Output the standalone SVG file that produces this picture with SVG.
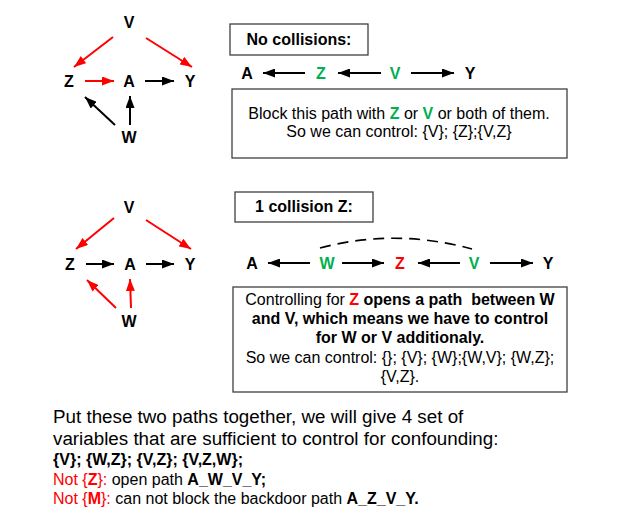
<svg xmlns="http://www.w3.org/2000/svg" width="625" height="526" viewBox="0 0 625 526">
<defs>
<style>
.n{font-family:"Liberation Sans",Arial,sans-serif;font-weight:bold;font-size:16px;text-anchor:middle;fill:#000}
.t{font-family:"Liberation Sans",Arial,sans-serif;fill:#000;white-space:pre}
.b{font-weight:bold}
.r{fill:#FF0000}
.g{fill:#00B050}
.box{fill:#fff;stroke:#404040;stroke-width:1.3}
.k{stroke:#000;stroke-width:2;fill:none}
.kr{stroke:#FF0000;stroke-width:2;fill:none}
</style>
<marker id="ak" markerUnits="userSpaceOnUse" markerWidth="12" markerHeight="9" refX="12" refY="4.5" orient="auto"><path d="M0,0 L12,4.5 L0,9 z" fill="#000"/></marker>
<marker id="ar" markerUnits="userSpaceOnUse" markerWidth="12" markerHeight="9" refX="12" refY="4.5" orient="auto"><path d="M0,0 L12,4.5 L0,9 z" fill="#FF0000"/></marker>
</defs>
<rect width="625" height="526" fill="#fff"/>

<g id="graph1">
<text class="n" x="129" y="28">V</text>
<text class="n" x="69" y="87">Z</text>
<text class="n" x="129" y="87">A</text>
<text class="n" x="190" y="87">Y</text>
<text class="n" x="129" y="143">W</text>
</g>
<g id="graph2">
<text class="n" x="129" y="213">V</text>
<text class="n" x="70" y="270">Z</text>
<text class="n" x="130" y="270">A</text>
<text class="n" x="190" y="270">Y</text>
<text class="n" x="129" y="327">W</text>
</g>

<g id="connectors">
<line class="kr" x1="113" y1="37" x2="74" y2="67" marker-end="url(#ar)"/>
<line class="kr" x1="146" y1="38" x2="192" y2="67" marker-end="url(#ar)"/>
<line class="kr" x1="85" y1="81" x2="114" y2="81" marker-end="url(#ar)"/>
<line class="k" x1="145" y1="81" x2="174" y2="81" marker-end="url(#ak)"/>
<line class="k" x1="115" y1="125" x2="85" y2="97" marker-end="url(#ak)"/>
<line class="k" x1="130" y1="125" x2="130" y2="96" marker-end="url(#ak)"/>

<line class="kr" x1="114" y1="218" x2="76" y2="249" marker-end="url(#ar)"/>
<line class="kr" x1="146" y1="220" x2="191" y2="249" marker-end="url(#ar)"/>
<line class="k" x1="86" y1="264" x2="114" y2="264" marker-end="url(#ak)"/>
<line class="k" x1="146" y1="264" x2="174" y2="264" marker-end="url(#ak)"/>
<line class="kr" x1="116" y1="308" x2="87" y2="280" marker-end="url(#ar)"/>
<line class="kr" x1="131" y1="308" x2="130" y2="279" marker-end="url(#ar)"/>

<line class="k" x1="305" y1="73" x2="263" y2="73" marker-end="url(#ak)"/>
<line class="k" x1="381" y1="73" x2="338" y2="73" marker-end="url(#ak)"/>
<line class="k" x1="411" y1="73" x2="454" y2="73" marker-end="url(#ak)"/>

<line class="k" x1="310" y1="263" x2="268" y2="263" marker-end="url(#ak)"/>
<line class="k" x1="342" y1="263" x2="384" y2="263" marker-end="url(#ak)"/>
<line class="k" x1="460" y1="263" x2="418" y2="263" marker-end="url(#ak)"/>
<line class="k" x1="490" y1="263" x2="533" y2="263" marker-end="url(#ak)"/>
<path d="M320,248 Q395,228 472,249" stroke="#000" stroke-width="1.6" fill="none" stroke-dasharray="11,7"/>
</g>

<g id="path1">
<text class="n" x="247" y="79">A</text>
<text class="n g" x="321" y="79">Z</text>
<text class="n g" x="395" y="79">V</text>
<text class="n" x="470" y="79">Y</text>
</g>
<g id="path2">
<text class="n" x="252" y="269">A</text>
<text class="n g" x="327" y="269">W</text>
<text class="n r" x="400" y="269">Z</text>
<text class="n g" x="474" y="269">V</text>
<text class="n" x="548" y="269">Y</text>
</g>

<g id="box-nocoll">
<rect class="box" x="230" y="24" width="138" height="31"/>
<text class="t b" x="299" y="45" font-size="16" text-anchor="middle">No collisions:</text>
</g>
<g id="box-block">
<rect class="box" x="232" y="89" width="335" height="69"/>
<text class="t" x="399" y="119" font-size="16" text-anchor="middle">Block this path with <tspan class="b g">Z</tspan> or <tspan class="b g">V</tspan> or both of them.</text>
<text class="t" x="399" y="137" font-size="16" text-anchor="middle">So we can control: {V}; {Z};{V,Z}</text>
</g>
<g id="box-coll">
<rect class="box" x="235" y="192" width="138" height="30"/>
<text class="t b" x="304" y="212" font-size="16" text-anchor="middle">1 collision Z:</text>
</g>
<g id="box-control">
<rect class="box" x="233" y="287" width="334" height="105"/>
<text class="t" x="400" y="305" font-size="16" text-anchor="middle">Controlling for <tspan class="b r">Z</tspan><tspan class="b"> opens a path  between W</tspan></text>
<text class="t b" x="400" y="324" font-size="16" text-anchor="middle">and V, which means we have to control</text>
<text class="t b" x="400" y="343" font-size="16" text-anchor="middle">for W or V additionaly.</text>
<text class="t" x="400" y="363" font-size="16" text-anchor="middle">So we can control: {}; {V}; {W};{W,V}; {W,Z};</text>
<text class="t" x="400" y="382" font-size="16" text-anchor="middle">{V,Z}.</text>
</g>

<g id="summary">
<text class="t" x="53" y="423" font-size="18.8">Put these two paths together, we will give 4 set of</text>
<text class="t" x="53" y="445" font-size="18.8">variables that are sufficient to control for confounding:</text>
<text class="t b" x="53" y="465" font-size="16">{V}; {W,Z}; {V,Z}; {V,Z,W};</text>
<text class="t" x="53" y="485" font-size="16"><tspan class="r">Not {</tspan><tspan class="r b">Z</tspan><tspan class="r">}:</tspan> open path <tspan class="b">A_W_V_Y;</tspan></text>
<text class="t" x="53" y="504" font-size="16"><tspan class="r">Not {</tspan><tspan class="r b">M</tspan><tspan class="r">}:</tspan> can not block the backdoor path <tspan class="b">A_Z_V_Y.</tspan></text>
</g>
</svg>
